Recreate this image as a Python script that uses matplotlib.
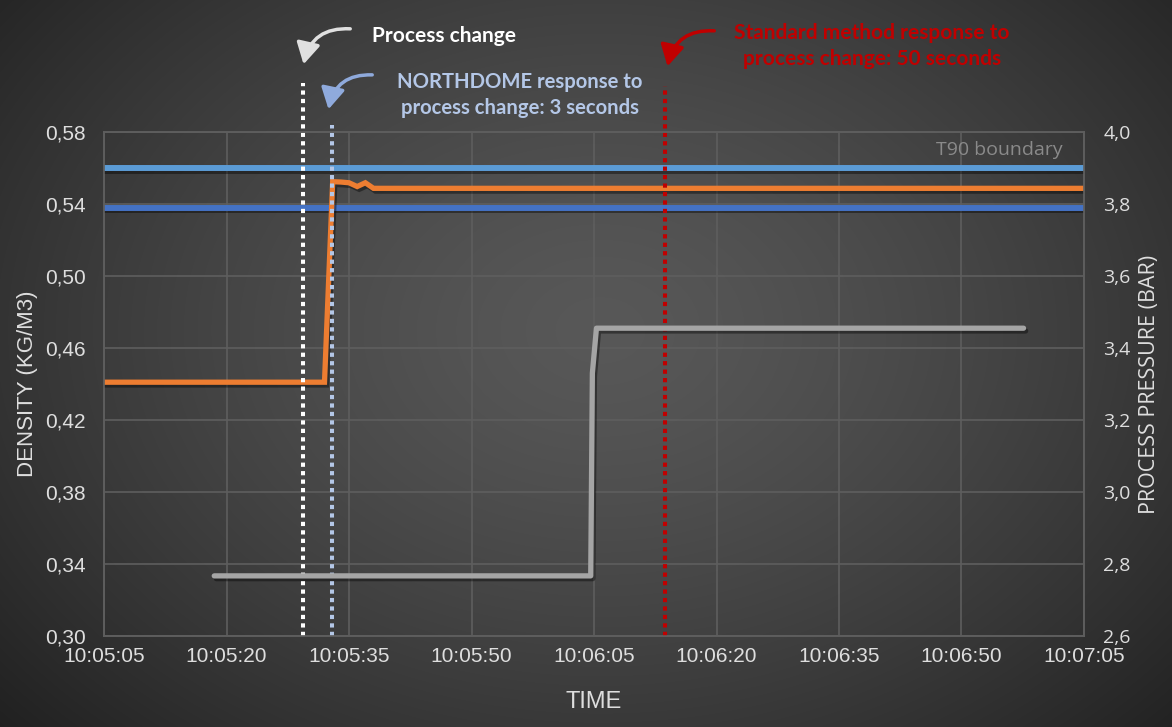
import numpy as np
import matplotlib
matplotlib.use("Agg")
import matplotlib.pyplot as plt
import matplotlib.patheffects as pe
from matplotlib.patches import FancyArrowPatch

W, H = 1172, 727

# seconds after 10:05:05
x_ticks = [0, 15, 30, 45, 60, 75, 90, 105, 120]
x_labels = ["10:05:05", "10:05:20", "10:05:35", "10:05:50", "10:06:05",
            "10:06:20", "10:06:35", "10:06:50", "10:07:05"]

# density (left axis)
dens_t = [0, 27, 28, 29, 30, 31, 32, 33, 120]
dens_v = [0.441, 0.441, 0.5524, 0.5522, 0.5518, 0.5497, 0.5518, 0.5487, 0.5487]

# process pressure (right axis)
pres_t = [13.5, 59.6, 59.8, 60.3, 112.6]
pres_v = [2.767, 2.767, 3.33, 3.455, 3.455]

# T90 boundary
t90_upper = 0.560
t90_lower = 0.538

# event markers (seconds) and their top (density units)
ev_change = 24.4
ev_northdome = 27.9
ev_standard = 68.7
ev_tops = [0.6072, 0.5839, 0.6056]

dens_ticks = [0.30, 0.34, 0.38, 0.42, 0.46, 0.50, 0.54, 0.58]
pres_ticks = [2.6, 2.8, 3.0, 3.2, 3.4, 3.6, 3.8, 4.0]

fig = plt.figure(figsize=(W / 100, H / 100), dpi=100)

# radial gradient background
bg = fig.add_axes([0, 0, 1, 1], zorder=-10)
yy, xx = np.mgrid[0:H, 0:W]
r = np.sqrt(((xx - 600) / 760.0) ** 2 + ((yy - 330) / 560.0) ** 2)
shade = np.clip(0.345 - 0.2 * r ** 1.4, 0.11, 1)
bg.imshow(np.dstack([shade] * 3), aspect="auto", extent=[0, 1, 0, 1])
bg.axis("off")

ax = fig.add_axes([104 / W, 1 - 636 / H, 980 / W, 504 / H])
ax.set_facecolor("none")
ax2 = ax.twinx()

shadow = [pe.SimpleLineShadow(offset=(1.5, -2), shadow_color="black", alpha=0.4), pe.Normal()]

ax.axhline(t90_upper, color="#5B9BD5", lw=4.3, path_effects=shadow, zorder=3)
ax.axhline(t90_lower, color="#4472C4", lw=4.3, path_effects=shadow, zorder=3)
ax.plot(dens_t, dens_v, color="#ED7D31", lw=3.8, path_effects=shadow, zorder=4,
        solid_joinstyle="miter")
ax2.plot(pres_t, pres_v, color="#A5A5A5", lw=3.8, path_effects=shadow, zorder=4,
         solid_capstyle="round")

for t, top, c in [(ev_change, ev_tops[0], "white"),
                  (ev_northdome, ev_tops[1], "#B4C7E7"),
                  (ev_standard, ev_tops[2], "#C00000")]:
    ax.plot([t, t], [0.30, top], color=c, lw=2.9, ls=(0, (1.05, 1.05)),
            dash_capstyle="butt", clip_on=False, zorder=6)

ax.set_xlim(0, 120)
ax.set_ylim(0.30, 0.58)
ax2.set_ylim(2.6, 4.0)
ax.set_xticks(x_ticks)
ax.set_xticklabels(x_labels)
ax.set_yticks(dens_ticks)
ax.set_yticklabels([f"{v:.2f}".replace(".", ",") for v in dens_ticks])
ax2.set_yticks(pres_ticks)
ax2.set_yticklabels([f"{v:.1f}".replace(".", ",") for v in pres_ticks])

ax.grid(True, color="#5e5e5e", lw=1.2)
ax.set_axisbelow(True)
for a in (ax, ax2):
    for s in a.spines.values():
        s.set_color("#5e5e5e")
        s.set_linewidth(1.2)
    a.tick_params(length=0, colors="#dedede", labelsize=15, pad=8)
ax.tick_params(axis="y", pad=13)
ax2.tick_params(axis="y", pad=14)
for lab in ax.get_xticklabels() + ax.get_yticklabels():
    lab.set_fontfamily("Liberation Sans")
for lab in ax2.get_yticklabels():
    lab.set_fontfamily("Open Sans")
    lab.set_fontsize(14)

ax.set_xlabel("TIME", color="#dedede", fontsize=17, family="Liberation Sans", labelpad=18)
ax.set_ylabel("DENSITY (KG/M3)", color="#dedede", fontsize=16, family="Liberation Sans", labelpad=5)
ax2.set_ylabel("PROCESS PRESSURE (BAR)", color="#dedede", fontsize=15.5, family="Open Sans", labelpad=6)

ax.text(0.978, 0.965, "T90 boundary", transform=ax.transAxes, ha="right", va="center",
        color="#8a8a8a", fontsize=14, family="Open Sans")


def px(x, y):
    return (x, H - y)


fig.text(444 / W, 1 - 36 / H, "Process change", color="white", fontsize=15,
         family="Lato", weight="bold", ha="center", va="center")
fig.text(520 / W, 1 - 95 / H, "NORTHDOME response to\nprocess change: 3 seconds",
         color="#B4C7E7", fontsize=14.6, family="Lato", weight="bold", ha="center",
         va="center", linespacing=1.42)
fig.text(872 / W, 1 - 46 / H, "Standard method response to\nprocess change: 50 seconds",
         color="#C00000", fontsize=15, family="Lato", weight="bold", ha="center",
         va="center", linespacing=1.42)

for tail, head, c in [((353, 29), (303, 67), "#E0E0E0"),
                      ((375, 75), (328, 112), "#8FAADC"),
                      ((717, 31), (667, 69), "#C00000")]:
    arr = FancyArrowPatch(px(*tail), px(*head), transform=None,
                          connectionstyle="arc3,rad=0.45", arrowstyle="-|>,head_length=8,head_width=4.5",
                          color=c, lw=2.5, mutation_scale=1.6)
    fig.patches.append(arr)

fig.savefig("out.png", dpi=100)
